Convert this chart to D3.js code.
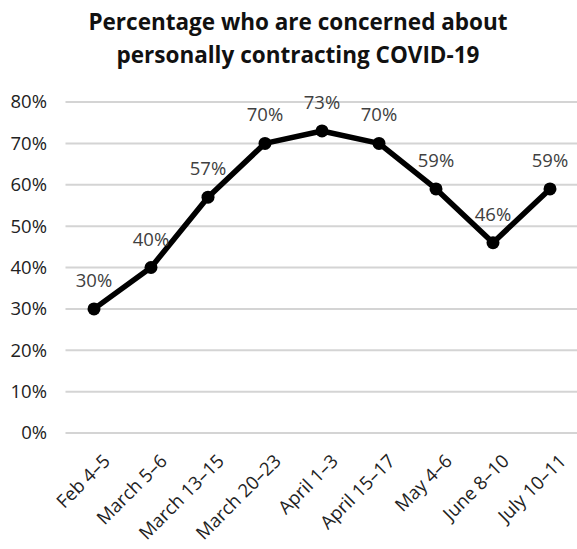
<!DOCTYPE html>
<html lang="en">
<head>
<meta charset="UTF-8"/>
<title>COVID-19 concern</title>
<script src="https://d3js.org/d3.v7.min.js"></script>
<style>
    body { margin: 0; background: #fff; }
    text { font-family: "Open Sans", Arial, sans-serif; }
    .grid line { stroke: #d4d4d4; stroke-width: 2px; }
    .axis text { fill: #222; }
</style>
</head>
<body>
<script>
    // data
    var periods = ["Feb 4\u20135", "March 5\u20136", "March 13\u201315", "March 20\u201323", "April 1\u20133",
        "April 15\u201317", "May 4\u20136", "June 8\u201310", "July 10\u201311"];
    var concerned = [30, 40, 57, 70, 73, 70, 59, 46, 59];
    var yTicks = [0, 10, 20, 30, 40, 50, 60, 70, 80];
    var titleLines = ["Percentage who are concerned about", "personally contracting COVID-19"];

    var width = 577, height = 549;
    var margin = {top: 102, right: 0, bottom: 116, left: 65.5};

    var svg = d3.select("body").append("svg")
        .attr("width", width)
        .attr("height", height);

    var x = d3.scaleBand()
        .domain(periods)
        .range([margin.left, margin.left + 57 * periods.length]);

    var y = d3.scaleLinear()
        .domain([0, 80])
        .range([height - margin.bottom, margin.top]);

    // title
    svg.append("g").selectAll("text")
        .data(titleLines)
        .enter().append("text")
        .attr("x", 298)
        .attr("y", function (d, i) { return 30 + i * 33; })
        .attr("text-anchor", "middle")
        .style("font-size", "22.5px")
        .style("font-weight", "bold")
        .style("fill", "#111")
        .text(function (d) { return d; });

    // gridlines
    svg.append("g").attr("class", "grid")
        .selectAll("line")
        .data(yTicks)
        .enter().append("line")
        .attr("x1", margin.left)
        .attr("x2", width)
        .attr("y1", function (d) { return y(d); })
        .attr("y2", function (d) { return y(d); });

    // y axis
    var yAxis = svg.append("g")
        .attr("class", "axis")
        .attr("transform", "translate(" + 47 + ",0)")
        .call(d3.axisLeft(y).tickValues(yTicks).tickSize(0).tickPadding(0)
            .tickFormat(function (d) { return d + "%"; }));
    yAxis.select(".domain").remove();
    yAxis.selectAll("text").style("font-size", "18.5px");

    // x axis
    var xAxis = svg.append("g")
        .attr("class", "axis")
        .attr("transform", "translate(0," + (y(0) + 20) + ")")
        .call(d3.axisBottom(x).tickSize(0).tickPadding(0));
    xAxis.select(".domain").remove();
    xAxis.selectAll("text")
        .style("font-size", "18.5px")
        .style("text-anchor", "end")
        .attr("dy", "0.7em")
        .attr("transform", "translate(8,0)rotate(-45)");

    var cx = function (d, i) { return x(periods[i]) + x.bandwidth() / 2; };

    // line
    var line = d3.line()
        .x(function (d, i) { return cx(d, i); })
        .y(function (d) { return y(d); });

    svg.append("path")
        .datum(concerned)
        .attr("d", line)
        .attr("fill", "none")
        .attr("stroke", "#000")
        .attr("stroke-width", 5.5)
        .attr("stroke-linejoin", "round");

    svg.append("g").selectAll("circle")
        .data(concerned)
        .enter().append("circle")
        .attr("cx", cx)
        .attr("cy", function (d) { return y(d); })
        .attr("r", 6.5)
        .attr("fill", "#000");

    // value labels
    svg.append("g").selectAll("text")
        .data(concerned)
        .enter().append("text")
        .attr("x", cx)
        .attr("y", function (d) { return y(d) - 22; })
        .attr("text-anchor", "middle")
        .style("font-size", "18.5px")
        .style("fill", "#404040")
        .text(function (d) { return d + "%"; });
</script>
</body>
</html>
